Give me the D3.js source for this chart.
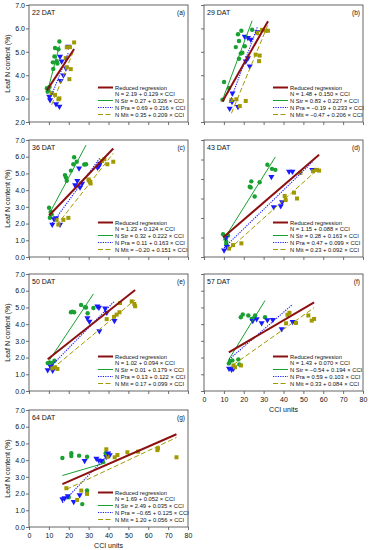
<!DOCTYPE html>
<html>
<head>
<meta charset="utf-8">
<script src="https://cdn.jsdelivr.net/npm/d3@7"></script>
<style>
body{margin:0;background:#fff;}
text{font-family:"Liberation Sans",Arial,sans-serif;fill:#111;}
</style>
</head>
<body>
<svg id="chart" width="372" height="550"></svg>
<script>
// panel labels and axis ranges
var dayLabels = ["22 DAT", "29 DAT", "36 DAT", "43 DAT", "50 DAT", "57 DAT", "64 DAT"];
var panelLetters = ["(a)", "(b)", "(c)", "(d)", "(e)", "(f)", "(g)"];
var yMin = [2, 2, 0, 1, 0, 0, 0];
var yMax = [7, 7, 7, 7, 7, 7, 7];
var xTicks = [0, 10, 20, 30, 40, 50, 60, 70, 80];

// regression coefficients [intercept, slope] read from the legends
var reducedCoef = [[2.19, 0.129], [1.48, 0.150], [1.23, 0.124], [1.15, 0.088], [1.02, 0.094], [1.43, 0.070], [1.69, 0.052]];
var strCoef = [[0.27, 0.326], [0.83, 0.227], [0.32, 0.222], [0.28, 0.163], [0.01, 0.179], [-0.54, 0.194], [2.49, 0.035]];
var praCoef = [[0.69, 0.216], [-0.19, 0.233], [0.11, 0.163], [0.47, 0.099], [0.13, 0.122], [0.59, 0.103], [-0.65, 0.125]];
var mitCoef = [[0.35, 0.209], [-0.47, 0.206], [-0.20, 0.151], [0.23, 0.092], [0.17, 0.099], [0.33, 0.084], [1.20, 0.056]];

// observations [CCI, leaf N %]
var str22 = [[9.0,3.44],[9.4,3.30],[9.8,3.35],[10.3,3.50],[12.0,4.55],[12.2,4.27],[12.8,4.80],[13.1,5.16],[13.9,4.60],[14.3,4.50],[14.8,5.11],[15.3,5.44]];
var pra22 = [[10.2,3.09],[10.6,2.94],[13.6,2.77],[15.3,2.66],[15.6,4.80],[16.4,4.60],[15.9,3.76],[17.3,4.00],[18.6,4.30],[19.8,5.23]];
var mit22 = [[11.4,3.23],[13.1,3.16],[14.8,2.97],[15.3,3.01],[18.5,4.73],[19.0,4.34],[19.0,5.19],[20.3,3.83],[20.6,5.20],[21.0,4.26],[22.7,5.40]];

var str29 = [[9.3,2.95],[10.1,3.71],[12.6,3.45],[16.0,5.20],[17.1,5.75],[17.6,5.46],[17.6,4.70],[18.5,4.93],[18.8,5.90],[19.3,4.96],[20.5,5.24],[24.2,5.94]];
var pra29 = [[12.9,2.58],[14.1,2.87],[14.3,3.23],[17.1,2.65],[20.5,5.65],[21.0,4.60],[22.1,5.60],[22.1,4.74],[23.0,4.38],[23.5,5.53],[26.8,5.85]];
var mit29 = [[13.8,2.94],[16.3,2.97],[18.0,2.68],[21.0,2.90],[26.0,4.88],[27.7,4.60],[28.0,4.84],[26.7,5.80],[29.2,5.94],[31.0,5.90],[32.2,5.90]];

var str36 = [[10.1,2.95],[10.5,2.35],[10.9,2.69],[11.4,2.55],[18.1,4.90],[18.6,4.76],[19.0,4.56],[21.1,5.17],[22.3,5.55],[22.7,5.97],[24.0,5.70],[27.8,5.53],[28.7,5.55]];
var pra36 = [[11.7,1.94],[12.6,2.28],[13.6,2.34],[15.6,1.94],[23.2,4.30],[24.3,4.56],[25.2,5.31],[25.7,4.17],[26.7,4.40],[34.5,5.35],[35.2,5.45],[35.7,5.60]];
var mit36 = [[13.9,2.22],[14.8,1.94],[17.3,2.22],[19.8,2.34],[29.9,4.64],[30.2,4.58],[30.7,4.50],[31.0,4.40],[36.8,5.75],[37.9,5.85],[39.4,5.55],[42.4,5.70]];

var str43 = [[9.6,2.17],[11.0,1.95],[11.2,1.78],[11.2,1.66],[12.1,2.10],[23.0,4.60],[23.5,4.57],[23.8,4.88],[25.5,4.10],[28.0,4.83],[31.9,5.73],[34.2,5.52],[35.9,5.47]];
var pra43 = [[10.1,1.35],[10.9,1.99],[11.6,1.52],[33.9,5.12],[35.1,3.56],[38.6,3.61],[39.3,3.82],[42.8,5.38],[44.5,5.38],[54.5,5.47]];
var mit43 = [[12.6,1.43],[14.6,1.61],[18.8,1.70],[40.6,4.13],[41.1,3.92],[45.3,4.30],[46.8,4.00],[48.5,5.31],[54.9,5.40],[56.5,5.47],[57.9,5.43]];

var str50 = [[9.4,1.67],[10.6,1.70],[11.7,1.67],[12.8,1.81],[21.1,4.71],[21.8,4.75],[22.7,4.71],[26.2,5.15],[28.2,5.01],[28.7,5.00],[29.5,4.65],[32.4,4.97]];
var pra50 = [[9.4,1.26],[10.9,1.46],[11.9,1.22],[29.4,4.36],[30.4,4.16],[34.4,5.07],[35.2,5.00],[35.4,3.59],[38.3,4.95],[39.1,4.70],[43.0,4.20]];
var mit50 = [[11.7,1.36],[13.1,1.42],[14.3,1.32],[39.1,4.30],[42.8,4.44],[44.1,4.57],[45.5,4.71],[45.8,5.26],[51.7,5.36],[53.0,5.21],[53.4,5.07]];

var str57 = [[12.5,1.65],[13.1,1.79],[14.3,1.83],[17.3,1.89],[17.8,1.59],[18.5,4.41],[19.5,4.58],[22.3,4.52],[24.0,4.31],[25.2,4.37],[25.7,4.52],[30.7,4.41]];
var pra57 = [[12.6,1.34],[13.9,1.28],[14.8,1.34],[24.5,4.21],[26.5,4.31],[29.0,4.07],[31.9,4.25],[34.6,4.27],[39.1,3.71],[44.6,4.15]];
var mit57 = [[14.8,1.53],[15.6,1.42],[18.6,1.53],[41.3,4.05],[42.0,4.56],[43.0,4.68],[46.3,4.07],[52.5,4.52],[54.2,4.21],[55.4,4.31]];

var str64 = [[16.8,4.13],[20.0,1.78],[21.3,4.41],[21.3,4.25],[25.2,4.27],[26.8,1.37],[29.2,4.20],[29.2,2.18],[29.2,2.04],[37.2,3.90],[38.6,4.41]];
var pra64 = [[16.8,1.68],[17.9,1.74],[19.5,1.85],[22.5,1.51],[25.5,1.92],[28.0,3.96],[33.9,4.10],[35.1,4.00],[36.4,3.96],[38.9,4.20],[39.8,4.41],[40.6,4.31]];
var mit64 = [[18.8,2.32],[24.2,1.62],[26.3,2.18],[29.2,1.98],[38.9,4.65],[39.5,4.20],[43.1,4.17],[44.5,4.31],[49.5,4.47],[54.9,4.51],[64.6,4.60],[64.9,4.71],[74.2,4.17]];

var strData = [str22, str29, str36, str43, str50, str57, str64];
var praData = [pra22, pra29, pra36, pra43, pra50, pra57, pra64];
var mitData = [mit22, mit29, mit36, mit43, mit50, mit57, mit64];

var redColor = "#8c1010",
	strColor = "#18a030",
	praColor = "#1a1aff",
	mitColor = "#a09a00";

var colLeft = [29, 204],
	rowTop = [5, 140, 274, 410],
	panelW = 159,
	panelH = 117;

var svg = d3.select("#chart");

function fmtCoef(c){
	var a = c[0].toFixed(2), b = c[1].toFixed(3);
	if(c[0] < 0){ a = "\u2212" + a.slice(1); }
	return a + " + " + b + " \u00d7 CCI";
}

function drawPanel(i){
	var col = i % 2, row = Math.floor(i / 2);
	var left = colLeft[col], top = rowTop[row];
	var isLeft = (col == 0);
	var showX = (i == 5 || i == 6);

	var x = d3.scaleLinear().domain([0, 80]).range([0, panelW]);
	var y = d3.scaleLinear().domain([yMin[i], yMax[i]]).range([panelH, 0]);

	var g = svg.append("g").attr("transform", "translate(" + left + "," + top + ")");

	// axes
	var yAxis = d3.axisLeft(y).tickValues(d3.range(yMin[i], yMax[i] + 0.01, 1))
		.tickSize(3).tickSizeOuter(0)
		.tickFormat(isLeft ? d3.format(".1f") : function(){ return ""; });
	var ya = g.append("g").call(yAxis);
	ya.select(".domain").remove();
	ya.selectAll("text").attr("font-size", "7px").attr("fill", "#222").attr("x", -4);
	ya.selectAll("line").attr("stroke", "#333").attr("stroke-width", 0.7);

	var xAxis = d3.axisBottom(x).tickValues(xTicks)
		.tickSize(3).tickSizeOuter(0)
		.tickFormat(showX ? d3.format("d") : function(){ return ""; });
	var xa = g.append("g").attr("transform", "translate(0," + panelH + ")").call(xAxis);
	xa.select(".domain").remove();
	xa.selectAll("text").attr("font-size", "7px").attr("fill", "#222").attr("y", 6);
	xa.selectAll("line").attr("stroke", "#333").attr("stroke-width", 0.7);

	g.append("rect").attr("x", 0).attr("y", 0).attr("width", panelW).attr("height", panelH)
		.attr("fill", "none").attr("stroke", "#555").attr("stroke-width", 0.9);

	if(isLeft){
		g.append("text").attr("transform", "translate(-19," + (panelH / 2) + ") rotate(-90)")
			.attr("text-anchor", "middle").attr("font-size", "7px").text("Leaf N content (%)");
	}
	if(showX){
		g.append("text").attr("x", panelW / 2).attr("y", panelH + 21)
			.attr("text-anchor", "middle").attr("font-size", "7px").text("CCI units");
	}

	g.append("text").attr("x", 3).attr("y", 10).attr("font-size", "7px").text(dayLabels[i]);
	g.append("text").attr("x", panelW - 3).attr("y", 10).attr("text-anchor", "end")
		.attr("font-size", "6.5px").text(panelLetters[i]);

	// regression lines over each series' range
	function fitLine(data, coef){
		var ext = d3.extent(data, function(d){ return d[0]; });
		return ext.map(function(cx){ return [cx, coef[0] + coef[1] * cx]; });
	}
	var line = d3.line().x(function(d){ return x(d[0]); }).y(function(d){ return y(d[1]); });
	var all = strData[i].concat(praData[i], mitData[i]);

	// points
	g.selectAll(".str").data(strData[i]).enter().append("circle")
		.attr("cx", function(d){ return x(d[0]); }).attr("cy", function(d){ return y(d[1]); })
		.attr("r", 2.2).attr("fill", strColor);
	var tri = d3.symbol().type(d3.symbolTriangle).size(16);
	g.selectAll(".pra").data(praData[i]).enter().append("path")
		.attr("d", tri)
		.attr("transform", function(d){ return "translate(" + x(d[0]) + "," + y(d[1]) + ") rotate(180)"; })
		.attr("fill", praColor);
	g.selectAll(".mit").data(mitData[i]).enter().append("rect")
		.attr("x", function(d){ return x(d[0]) - 2; }).attr("y", function(d){ return y(d[1]) - 2; })
		.attr("width", 4).attr("height", 4).attr("fill", mitColor);

	g.append("path").attr("d", line(fitLine(strData[i], strCoef[i])))
		.attr("stroke", strColor).attr("stroke-width", 1).attr("fill", "none");
	g.append("path").attr("d", line(fitLine(praData[i], praCoef[i])))
		.attr("stroke", praColor).attr("stroke-width", 1.1).attr("stroke-dasharray", "1.2,1.2").attr("fill", "none");
	g.append("path").attr("d", line(fitLine(mitData[i], mitCoef[i])))
		.attr("stroke", mitColor).attr("stroke-width", 1).attr("stroke-dasharray", "5,2.5").attr("fill", "none");
	g.append("path").attr("d", line(fitLine(all, reducedCoef[i])))
		.attr("stroke", redColor).attr("stroke-width", 2).attr("fill", "none");

	// legend
	var lx = 69, lw = 15, tx = lx + lw + 2;
	var rows = [
		{dy: -34.5, color: redColor, w: 2, dash: null, label: "Reduced regression"},
		{dy: -21.5, color: strColor, w: 1, dash: null, label: "N Str = " + fmtCoef(strCoef[i])},
		{dy: -14.5, color: praColor, w: 1.1, dash: "1.2,1.2", label: "N Pra = " + fmtCoef(praCoef[i])},
		{dy: -7.5, color: mitColor, w: 1, dash: "5,2.5", label: "N Mit = " + fmtCoef(mitCoef[i])}
	];
	var lg = g.append("g");
	rows.forEach(function(r){
		lg.append("line").attr("x1", lx).attr("x2", lx + lw).attr("y1", panelH + r.dy).attr("y2", panelH + r.dy)
			.attr("stroke", r.color).attr("stroke-width", r.w).attr("stroke-dasharray", r.dash);
		lg.append("text").attr("x", tx).attr("y", panelH + r.dy).attr("dy", "0.35em")
			.attr("font-size", "5.8px").text(r.label);
	});
	lg.append("text").attr("x", tx).attr("y", panelH - 28).attr("dy", "0.35em")
		.attr("font-size", "5.8px").text("N = " + fmtCoef(reducedCoef[i]));
}

for(var i = 0; i < 7; i++){
	drawPanel(i);
}
</script>
</body>
</html>
